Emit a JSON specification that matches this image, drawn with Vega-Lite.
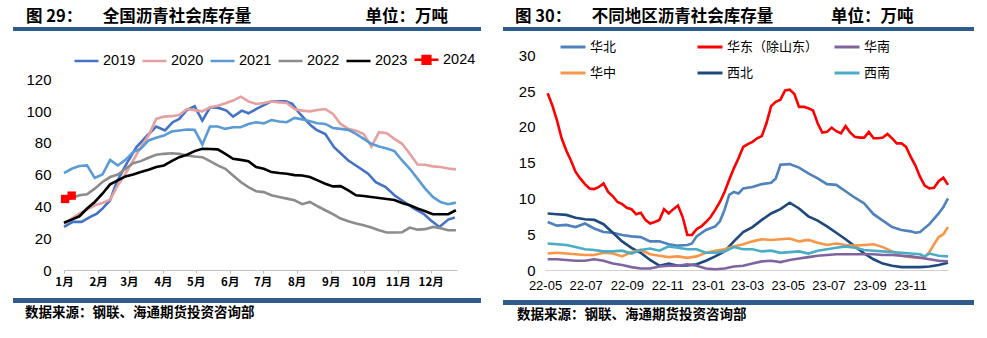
{
"$schema": "https://vega.github.io/schema/vega-lite/v6.json",
"background": "white",
"padding": {"left": 13, "top": 8, "right": 13, "bottom": 0},
"config": {"view": {"stroke": null}, "axis": {"grid": false}, "font": "Liberation Sans"},
"resolve": {"scale": {"color": "independent", "x": "independent", "y": "independent"}, "legend": {"color": "independent"}},
"datasets": {
"nat": [
{"d":"2019/01/01","s":"2019","v":27.1},{"d":"2019/01/09","s":"2019","v":30.3},{"d":"2019/01/17","s":"2019","v":30.3},{"d":"2019/01/25","s":"2019","v":33.4},{"d":"2019/01/31","s":"2019","v":35.5},{"d":"2019/02/05","s":"2019","v":38.6},{"d":"2019/02/12","s":"2019","v":43.9},{"d":"2019/02/18","s":"2019","v":55.3},{"d":"2019/02/27","s":"2019","v":66.9},{"d":"2019/03/08","s":"2019","v":77.3},{"d":"2019/03/17","s":"2019","v":84.0},{"d":"2019/03/26","s":"2019","v":90.3},{"d":"2019/04/03","s":"2019","v":87.8},{"d":"2019/04/10","s":"2019","v":93.0},{"d":"2019/04/16","s":"2019","v":95.1},{"d":"2019/04/23","s":"2019","v":100.7},{"d":"2019/04/30","s":"2019","v":103.0},{"d":"2019/05/07","s":"2019","v":94.0},{"d":"2019/05/14","s":"2019","v":102.4},{"d":"2019/05/22","s":"2019","v":102.0},{"d":"2019/05/29","s":"2019","v":100.3},{"d":"2019/06/04","s":"2019","v":96.5},{"d":"2019/06/12","s":"2019","v":100.3},{"d":"2019/06/18","s":"2019","v":98.6},{"d":"2019/06/27","s":"2019","v":102.0},{"d":"2019/07/09","s":"2019","v":106.1},{"d":"2019/07/22","s":"2019","v":106.1},{"d":"2019/07/28","s":"2019","v":104.5},{"d":"2019/08/04","s":"2019","v":98.2},{"d":"2019/08/14","s":"2019","v":90.9},{"d":"2019/08/19","s":"2019","v":88.2},{"d":"2019/08/27","s":"2019","v":85.6},{"d":"2019/09/04","s":"2019","v":77.3},{"d":"2019/09/17","s":"2019","v":68.9},{"d":"2019/09/26","s":"2019","v":64.8},{"d":"2019/10/05","s":"2019","v":60.6},{"d":"2019/10/12","s":"2019","v":55.3},{"d":"2019/10/21","s":"2019","v":52.2},{"d":"2019/10/29","s":"2019","v":47.0},{"d":"2019/11/07","s":"2019","v":42.8},{"d":"2019/11/16","s":"2019","v":38.6},{"d":"2019/11/25","s":"2019","v":35.1},{"d":"2019/12/01","s":"2019","v":31.3},{"d":"2019/12/09","s":"2019","v":27.1},{"d":"2019/12/17","s":"2019","v":31.7},{"d":"2019/12/23","s":"2019","v":33.0},
{"d":"2019/01/01","s":"2020","v":29.2},{"d":"2019/01/08","s":"2020","v":32.4},{"d":"2019/01/15","s":"2020","v":35.5},{"d":"2019/01/22","s":"2020","v":38.0},{"d":"2019/01/29","s":"2020","v":40.7},{"d":"2019/02/05","s":"2020","v":42.2},{"d":"2019/02/12","s":"2020","v":44.3},{"d":"2019/02/19","s":"2020","v":53.3},{"d":"2019/02/26","s":"2020","v":60.6},{"d":"2019/03/05","s":"2020","v":68.9},{"d":"2019/03/12","s":"2020","v":77.3},{"d":"2019/03/19","s":"2020","v":84.6},{"d":"2019/03/26","s":"2020","v":95.1},{"d":"2019/04/02","s":"2020","v":96.5},{"d":"2019/04/09","s":"2020","v":96.8},{"d":"2019/04/16","s":"2020","v":97.5},{"d":"2019/04/23","s":"2020","v":101.3},{"d":"2019/04/30","s":"2020","v":100.6},{"d":"2019/05/07","s":"2020","v":99.8},{"d":"2019/05/14","s":"2020","v":102.4},{"d":"2019/05/21","s":"2020","v":103.4},{"d":"2019/05/28","s":"2020","v":104.9},{"d":"2019/06/04","s":"2020","v":106.6},{"d":"2019/06/11","s":"2020","v":109.1},{"d":"2019/06/18","s":"2020","v":106.1},{"d":"2019/06/25","s":"2020","v":104.5},{"d":"2019/07/02","s":"2020","v":105.1},{"d":"2019/07/09","s":"2020","v":106.1},{"d":"2019/07/16","s":"2020","v":105.5},{"d":"2019/07/23","s":"2020","v":105.1},{"d":"2019/07/30","s":"2020","v":101.3},{"d":"2019/08/06","s":"2020","v":100.3},{"d":"2019/08/13","s":"2020","v":99.8},{"d":"2019/08/20","s":"2020","v":100.7},{"d":"2019/08/27","s":"2020","v":101.3},{"d":"2019/09/03","s":"2020","v":98.2},{"d":"2019/09/10","s":"2020","v":91.9},{"d":"2019/09/17","s":"2020","v":88.8},{"d":"2019/09/24","s":"2020","v":87.7},{"d":"2019/10/01","s":"2020","v":85.6},{"d":"2019/10/08","s":"2020","v":77.7},{"d":"2019/10/15","s":"2020","v":86.7},{"d":"2019/10/22","s":"2020","v":86.1},{"d":"2019/10/29","s":"2020","v":82.5},{"d":"2019/11/05","s":"2020","v":79.4},{"d":"2019/11/12","s":"2020","v":73.1},{"d":"2019/11/19","s":"2020","v":66.4},{"d":"2019/11/26","s":"2020","v":66.2},{"d":"2019/12/03","s":"2020","v":65.2},{"d":"2019/12/10","s":"2020","v":64.8},{"d":"2019/12/17","s":"2020","v":63.9},{"d":"2019/12/24","s":"2020","v":63.3},
{"d":"2019/01/01","s":"2021","v":61.0},{"d":"2019/01/08","s":"2021","v":63.7},{"d":"2019/01/15","s":"2021","v":65.4},{"d":"2019/01/22","s":"2021","v":65.8},{"d":"2019/01/29","s":"2021","v":58.0},{"d":"2019/02/05","s":"2021","v":60.1},{"d":"2019/02/12","s":"2021","v":69.3},{"d":"2019/02/19","s":"2021","v":65.8},{"d":"2019/02/26","s":"2021","v":69.3},{"d":"2019/03/05","s":"2021","v":74.2},{"d":"2019/03/12","s":"2021","v":76.3},{"d":"2019/03/19","s":"2021","v":81.5},{"d":"2019/03/26","s":"2021","v":83.2},{"d":"2019/04/02","s":"2021","v":84.6},{"d":"2019/04/09","s":"2021","v":87.1},{"d":"2019/04/16","s":"2021","v":87.8},{"d":"2019/04/23","s":"2021","v":88.4},{"d":"2019/04/30","s":"2021","v":88.2},{"d":"2019/05/07","s":"2021","v":79.0},{"d":"2019/05/14","s":"2021","v":90.3},{"d":"2019/05/21","s":"2021","v":90.3},{"d":"2019/05/28","s":"2021","v":88.8},{"d":"2019/06/04","s":"2021","v":89.8},{"d":"2019/06/11","s":"2021","v":89.8},{"d":"2019/06/18","s":"2021","v":91.9},{"d":"2019/06/25","s":"2021","v":93.0},{"d":"2019/07/02","s":"2021","v":92.3},{"d":"2019/07/09","s":"2021","v":94.4},{"d":"2019/07/16","s":"2021","v":93.4},{"d":"2019/07/23","s":"2021","v":93.0},{"d":"2019/07/30","s":"2021","v":95.7},{"d":"2019/08/06","s":"2021","v":94.8},{"d":"2019/08/13","s":"2021","v":93.6},{"d":"2019/08/20","s":"2021","v":92.3},{"d":"2019/08/27","s":"2021","v":91.9},{"d":"2019/09/03","s":"2021","v":89.4},{"d":"2019/09/10","s":"2021","v":88.8},{"d":"2019/09/17","s":"2021","v":88.2},{"d":"2019/09/24","s":"2021","v":85.6},{"d":"2019/10/01","s":"2021","v":82.5},{"d":"2019/10/08","s":"2021","v":79.4},{"d":"2019/10/15","s":"2021","v":77.7},{"d":"2019/10/22","s":"2021","v":76.5},{"d":"2019/10/29","s":"2021","v":74.8},{"d":"2019/11/05","s":"2021","v":68.9},{"d":"2019/11/12","s":"2021","v":63.7},{"d":"2019/11/19","s":"2021","v":57.5},{"d":"2019/11/26","s":"2021","v":51.2},{"d":"2019/12/03","s":"2021","v":46.0},{"d":"2019/12/10","s":"2021","v":42.8},{"d":"2019/12/17","s":"2021","v":41.4},{"d":"2019/12/24","s":"2021","v":42.4},
{"d":"2019/01/01","s":"2022","v":43.9},{"d":"2019/01/08","s":"2022","v":45.3},{"d":"2019/01/15","s":"2022","v":47.0},{"d":"2019/01/22","s":"2022","v":47.6},{"d":"2019/01/29","s":"2022","v":51.2},{"d":"2019/02/05","s":"2022","v":55.4},{"d":"2019/02/12","s":"2022","v":58.5},{"d":"2019/02/19","s":"2022","v":60.1},{"d":"2019/02/26","s":"2022","v":63.7},{"d":"2019/03/05","s":"2022","v":67.2},{"d":"2019/03/12","s":"2022","v":68.5},{"d":"2019/03/19","s":"2022","v":70.6},{"d":"2019/03/26","s":"2022","v":72.5},{"d":"2019/04/02","s":"2022","v":73.1},{"d":"2019/04/09","s":"2022","v":73.5},{"d":"2019/04/16","s":"2022","v":73.1},{"d":"2019/04/23","s":"2022","v":72.1},{"d":"2019/04/30","s":"2022","v":71.4},{"d":"2019/05/07","s":"2022","v":71.0},{"d":"2019/05/14","s":"2022","v":68.5},{"d":"2019/05/21","s":"2022","v":65.8},{"d":"2019/05/28","s":"2022","v":63.7},{"d":"2019/06/04","s":"2022","v":59.5},{"d":"2019/06/11","s":"2022","v":55.4},{"d":"2019/06/18","s":"2022","v":52.2},{"d":"2019/06/25","s":"2022","v":49.6},{"d":"2019/07/02","s":"2022","v":49.0},{"d":"2019/07/09","s":"2022","v":47.0},{"d":"2019/07/16","s":"2022","v":45.9},{"d":"2019/07/23","s":"2022","v":44.9},{"d":"2019/07/30","s":"2022","v":43.9},{"d":"2019/08/06","s":"2022","v":41.4},{"d":"2019/08/13","s":"2022","v":42.8},{"d":"2019/08/20","s":"2022","v":40.1},{"d":"2019/08/27","s":"2022","v":37.6},{"d":"2019/09/03","s":"2022","v":35.1},{"d":"2019/09/10","s":"2022","v":32.4},{"d":"2019/09/17","s":"2022","v":30.7},{"d":"2019/09/24","s":"2022","v":29.2},{"d":"2019/10/01","s":"2022","v":28.2},{"d":"2019/10/08","s":"2022","v":26.7},{"d":"2019/10/15","s":"2022","v":25.0},{"d":"2019/10/22","s":"2022","v":23.6},{"d":"2019/10/29","s":"2022","v":23.6},{"d":"2019/11/05","s":"2022","v":23.8},{"d":"2019/11/12","s":"2022","v":26.7},{"d":"2019/11/19","s":"2022","v":25.4},{"d":"2019/11/26","s":"2022","v":25.7},{"d":"2019/12/03","s":"2022","v":27.1},{"d":"2019/12/10","s":"2022","v":26.3},{"d":"2019/12/17","s":"2022","v":25.0},{"d":"2019/12/24","s":"2022","v":25.0},
{"d":"2019/01/01","s":"2023","v":29.7},{"d":"2019/01/08","s":"2023","v":31.7},{"d":"2019/01/15","s":"2023","v":33.8},{"d":"2019/01/22","s":"2023","v":38.7},{"d":"2019/01/29","s":"2023","v":42.8},{"d":"2019/02/05","s":"2023","v":48.0},{"d":"2019/02/12","s":"2023","v":53.9},{"d":"2019/02/19","s":"2023","v":56.4},{"d":"2019/02/26","s":"2023","v":58.9},{"d":"2019/03/05","s":"2023","v":60.1},{"d":"2019/03/12","s":"2023","v":61.6},{"d":"2019/03/19","s":"2023","v":63.1},{"d":"2019/03/26","s":"2023","v":64.8},{"d":"2019/04/02","s":"2023","v":65.8},{"d":"2019/04/09","s":"2023","v":68.5},{"d":"2019/04/16","s":"2023","v":71.0},{"d":"2019/04/23","s":"2023","v":72.5},{"d":"2019/04/30","s":"2023","v":74.8},{"d":"2019/05/07","s":"2023","v":76.3},{"d":"2019/05/14","s":"2023","v":76.1},{"d":"2019/05/21","s":"2023","v":75.9},{"d":"2019/05/28","s":"2023","v":73.1},{"d":"2019/06/04","s":"2023","v":70.0},{"d":"2019/06/11","s":"2023","v":69.3},{"d":"2019/06/18","s":"2023","v":68.5},{"d":"2019/06/25","s":"2023","v":64.8},{"d":"2019/07/02","s":"2023","v":63.7},{"d":"2019/07/09","s":"2023","v":61.6},{"d":"2019/07/16","s":"2023","v":61.0},{"d":"2019/07/23","s":"2023","v":60.6},{"d":"2019/07/30","s":"2023","v":59.7},{"d":"2019/08/06","s":"2023","v":59.5},{"d":"2019/08/13","s":"2023","v":58.5},{"d":"2019/08/20","s":"2023","v":56.4},{"d":"2019/08/27","s":"2023","v":54.3},{"d":"2019/09/03","s":"2023","v":52.6},{"d":"2019/09/10","s":"2023","v":52.8},{"d":"2019/09/17","s":"2023","v":50.1},{"d":"2019/09/24","s":"2023","v":47.0},{"d":"2019/10/01","s":"2023","v":46.6},{"d":"2019/10/08","s":"2023","v":45.9},{"d":"2019/10/15","s":"2023","v":45.3},{"d":"2019/10/22","s":"2023","v":44.7},{"d":"2019/10/29","s":"2023","v":44.1},{"d":"2019/11/05","s":"2023","v":42.2},{"d":"2019/11/12","s":"2023","v":40.7},{"d":"2019/11/19","s":"2023","v":38.7},{"d":"2019/11/26","s":"2023","v":37.0},{"d":"2019/12/03","s":"2023","v":35.1},{"d":"2019/12/10","s":"2023","v":35.1},{"d":"2019/12/17","s":"2023","v":35.1},{"d":"2019/12/24","s":"2023","v":37.6},
{"d":"2019/01/02","s":"2024","v":44.7},{"d":"2019/01/08","s":"2024","v":46.8}
],
"reg": [
{"d":"2022/05/05","s":"华东（除山东）","v":24.7},{"d":"2022/05/12","s":"华东（除山东）","v":23.0},{"d":"2022/05/19","s":"华东（除山东）","v":20.9},{"d":"2022/05/26","s":"华东（除山东）","v":18.4},{"d":"2022/06/02","s":"华东（除山东）","v":16.7},{"d":"2022/06/09","s":"华东（除山东）","v":15.3},{"d":"2022/06/16","s":"华东（除山东）","v":13.7},{"d":"2022/06/23","s":"华东（除山东）","v":12.8},{"d":"2022/06/30","s":"华东（除山东）","v":12.0},{"d":"2022/07/07","s":"华东（除山东）","v":11.4},{"d":"2022/07/14","s":"华东（除山东）","v":11.3},{"d":"2022/07/21","s":"华东（除山东）","v":11.6},{"d":"2022/07/28","s":"华东（除山东）","v":12.1},{"d":"2022/08/04","s":"华东（除山东）","v":10.9},{"d":"2022/08/11","s":"华东（除山东）","v":10.3},{"d":"2022/08/18","s":"华东（除山东）","v":9.5},{"d":"2022/08/25","s":"华东（除山东）","v":9.2},{"d":"2022/09/01","s":"华东（除山东）","v":8.7},{"d":"2022/09/08","s":"华东（除山东）","v":8.5},{"d":"2022/09/15","s":"华东（除山东）","v":7.8},{"d":"2022/09/22","s":"华东（除山东）","v":8.0},{"d":"2022/09/29","s":"华东（除山东）","v":7.0},{"d":"2022/10/06","s":"华东（除山东）","v":6.5},{"d":"2022/10/13","s":"华东（除山东）","v":6.7},{"d":"2022/10/20","s":"华东（除山东）","v":7.0},{"d":"2022/10/27","s":"华东（除山东）","v":8.5},{"d":"2022/11/03","s":"华东（除山东）","v":7.9},{"d":"2022/11/10","s":"华东（除山东）","v":8.5},{"d":"2022/11/17","s":"华东（除山东）","v":9.0},{"d":"2022/11/24","s":"华东（除山东）","v":7.4},{"d":"2022/12/01","s":"华东（除山东）","v":4.9},{"d":"2022/12/08","s":"华东（除山东）","v":4.9},{"d":"2022/12/15","s":"华东（除山东）","v":5.7},{"d":"2022/12/22","s":"华东（除山东）","v":6.1},{"d":"2022/12/29","s":"华东（除山东）","v":6.7},{"d":"2023/01/05","s":"华东（除山东）","v":7.4},{"d":"2023/01/12","s":"华东（除山东）","v":8.4},{"d":"2023/01/19","s":"华东（除山东）","v":9.5},{"d":"2023/01/26","s":"华东（除山东）","v":10.9},{"d":"2023/02/02","s":"华东（除山东）","v":12.6},{"d":"2023/02/09","s":"华东（除山东）","v":14.2},{"d":"2023/02/16","s":"华东（除山东）","v":15.6},{"d":"2023/02/23","s":"华东（除山东）","v":17.2},{"d":"2023/03/02","s":"华东（除山东）","v":17.6},{"d":"2023/03/09","s":"华东（除山东）","v":17.9},{"d":"2023/03/16","s":"华东（除山东）","v":18.4},{"d":"2023/03/23","s":"华东（除山东）","v":18.7},{"d":"2023/03/30","s":"华东（除山东）","v":20.5},{"d":"2023/04/06","s":"华东（除山东）","v":22.9},{"d":"2023/04/13","s":"华东（除山东）","v":23.5},{"d":"2023/04/20","s":"华东（除山东）","v":23.8},{"d":"2023/04/27","s":"华东（除山东）","v":25.1},{"d":"2023/05/04","s":"华东（除山东）","v":25.2},{"d":"2023/05/11","s":"华东（除山东）","v":24.6},{"d":"2023/05/18","s":"华东（除山东）","v":22.8},{"d":"2023/05/25","s":"华东（除山东）","v":22.8},{"d":"2023/06/01","s":"华东（除山东）","v":22.6},{"d":"2023/06/08","s":"华东（除山东）","v":22.3},{"d":"2023/06/15","s":"华东（除山东）","v":20.5},{"d":"2023/06/22","s":"华东（除山东）","v":19.2},{"d":"2023/06/29","s":"华东（除山东）","v":19.3},{"d":"2023/07/06","s":"华东（除山东）","v":19.9},{"d":"2023/07/13","s":"华东（除山东）","v":19.4},{"d":"2023/07/20","s":"华东（除山东）","v":19.1},{"d":"2023/07/27","s":"华东（除山东）","v":20.1},{"d":"2023/08/03","s":"华东（除山东）","v":19.2},{"d":"2023/08/10","s":"华东（除山东）","v":18.6},{"d":"2023/08/17","s":"华东（除山东）","v":18.5},{"d":"2023/08/24","s":"华东（除山东）","v":18.5},{"d":"2023/08/31","s":"华东（除山东）","v":19.3},{"d":"2023/09/07","s":"华东（除山东）","v":18.4},{"d":"2023/09/14","s":"华东（除山东）","v":18.4},{"d":"2023/09/21","s":"华东（除山东）","v":18.5},{"d":"2023/09/28","s":"华东（除山东）","v":19.0},{"d":"2023/10/05","s":"华东（除山东）","v":18.4},{"d":"2023/10/12","s":"华东（除山东）","v":17.7},{"d":"2023/10/19","s":"华东（除山东）","v":17.7},{"d":"2023/10/26","s":"华东（除山东）","v":17.2},{"d":"2023/11/02","s":"华东（除山东）","v":15.8},{"d":"2023/11/09","s":"华东（除山东）","v":14.6},{"d":"2023/11/16","s":"华东（除山东）","v":13.0},{"d":"2023/11/23","s":"华东（除山东）","v":11.8},{"d":"2023/11/30","s":"华东（除山东）","v":11.4},{"d":"2023/12/07","s":"华东（除山东）","v":11.5},{"d":"2023/12/14","s":"华东（除山东）","v":12.4},{"d":"2023/12/21","s":"华东（除山东）","v":12.9},{"d":"2023/12/28","s":"华东（除山东）","v":11.9},
{"d":"2022/05/05","s":"华北","v":6.7},{"d":"2022/05/19","s":"华北","v":6.2},{"d":"2022/06/02","s":"华北","v":6.3},{"d":"2022/06/16","s":"华北","v":6.0},{"d":"2022/06/30","s":"华北","v":6.5},{"d":"2022/07/14","s":"华北","v":5.8},{"d":"2022/07/28","s":"华北","v":5.3},{"d":"2022/08/11","s":"华北","v":5.2},{"d":"2022/08/25","s":"华北","v":4.9},{"d":"2022/09/08","s":"华北","v":4.7},{"d":"2022/09/22","s":"华北","v":4.6},{"d":"2022/10/06","s":"华北","v":4.0},{"d":"2022/10/20","s":"华北","v":4.0},{"d":"2022/11/03","s":"华北","v":3.6},{"d":"2022/11/17","s":"华北","v":3.4},{"d":"2022/12/01","s":"华北","v":3.5},{"d":"2022/12/08","s":"华北","v":3.7},{"d":"2022/12/15","s":"华北","v":4.7},{"d":"2022/12/29","s":"华北","v":5.6},{"d":"2023/01/12","s":"华北","v":6.1},{"d":"2023/01/19","s":"华北","v":6.8},{"d":"2023/01/26","s":"华北","v":8.4},{"d":"2023/02/02","s":"华北","v":10.5},{"d":"2023/02/09","s":"华北","v":10.9},{"d":"2023/02/16","s":"华北","v":10.7},{"d":"2023/02/23","s":"华北","v":11.4},{"d":"2023/03/09","s":"华北","v":11.6},{"d":"2023/03/23","s":"华北","v":12.0},{"d":"2023/04/06","s":"华北","v":12.2},{"d":"2023/04/13","s":"华北","v":12.8},{"d":"2023/04/20","s":"华北","v":14.7},{"d":"2023/05/04","s":"华北","v":14.8},{"d":"2023/05/18","s":"华北","v":14.3},{"d":"2023/06/01","s":"华北","v":13.5},{"d":"2023/06/15","s":"华北","v":12.8},{"d":"2023/06/29","s":"华北","v":12.0},{"d":"2023/07/13","s":"华北","v":11.9},{"d":"2023/07/27","s":"华北","v":11.0},{"d":"2023/08/10","s":"华北","v":10.1},{"d":"2023/08/24","s":"华北","v":9.3},{"d":"2023/09/07","s":"华北","v":7.8},{"d":"2023/09/21","s":"华北","v":6.9},{"d":"2023/10/05","s":"华北","v":6.0},{"d":"2023/10/19","s":"华北","v":5.6},{"d":"2023/11/02","s":"华北","v":5.4},{"d":"2023/11/09","s":"华北","v":5.2},{"d":"2023/11/16","s":"华北","v":5.3},{"d":"2023/11/30","s":"华北","v":6.4},{"d":"2023/12/14","s":"华北","v":7.9},{"d":"2023/12/21","s":"华北","v":8.8},{"d":"2023/12/28","s":"华北","v":10.0},
{"d":"2022/05/05","s":"西北","v":7.9},{"d":"2022/05/19","s":"西北","v":7.8},{"d":"2022/06/02","s":"西北","v":7.7},{"d":"2022/06/16","s":"西北","v":7.3},{"d":"2022/06/30","s":"西北","v":7.1},{"d":"2022/07/14","s":"西北","v":7.0},{"d":"2022/07/28","s":"西北","v":6.4},{"d":"2022/08/11","s":"西北","v":5.2},{"d":"2022/08/25","s":"西北","v":4.0},{"d":"2022/09/08","s":"西北","v":3.1},{"d":"2022/09/22","s":"西北","v":2.4},{"d":"2022/10/06","s":"西北","v":1.4},{"d":"2022/10/20","s":"西北","v":0.6},{"d":"2022/11/03","s":"西北","v":0.9},{"d":"2022/11/17","s":"西北","v":0.6},{"d":"2022/12/01","s":"西北","v":0.65},{"d":"2022/12/15","s":"西北","v":0.8},{"d":"2022/12/29","s":"西北","v":1.3},{"d":"2023/01/12","s":"西北","v":1.9},{"d":"2023/01/26","s":"西北","v":2.6},{"d":"2023/02/09","s":"西北","v":4.0},{"d":"2023/02/23","s":"西北","v":5.3},{"d":"2023/03/09","s":"西北","v":6.0},{"d":"2023/03/23","s":"西北","v":7.0},{"d":"2023/04/06","s":"西北","v":7.9},{"d":"2023/04/20","s":"西北","v":8.5},{"d":"2023/05/04","s":"西北","v":9.4},{"d":"2023/05/18","s":"西北","v":8.6},{"d":"2023/06/01","s":"西北","v":7.5},{"d":"2023/06/15","s":"西北","v":6.9},{"d":"2023/06/29","s":"西北","v":6.1},{"d":"2023/07/13","s":"西北","v":5.2},{"d":"2023/07/27","s":"西北","v":4.3},{"d":"2023/08/10","s":"西北","v":3.3},{"d":"2023/08/24","s":"西北","v":2.3},{"d":"2023/09/07","s":"西北","v":1.5},{"d":"2023/09/21","s":"西北","v":0.9},{"d":"2023/10/05","s":"西北","v":0.6},{"d":"2023/10/19","s":"西北","v":0.4},{"d":"2023/11/02","s":"西北","v":0.4},{"d":"2023/11/16","s":"西北","v":0.4},{"d":"2023/11/30","s":"西北","v":0.5},{"d":"2023/12/14","s":"西北","v":0.7},{"d":"2023/12/28","s":"西北","v":1.0},
{"d":"2022/05/05","s":"华中","v":2.3},{"d":"2022/05/19","s":"华中","v":2.4},{"d":"2022/06/02","s":"华中","v":2.3},{"d":"2022/06/16","s":"华中","v":2.2},{"d":"2022/06/30","s":"华中","v":2.1},{"d":"2022/07/14","s":"华中","v":2.1},{"d":"2022/07/28","s":"华中","v":2.4},{"d":"2022/08/11","s":"华中","v":2.3},{"d":"2022/08/25","s":"华中","v":1.9},{"d":"2022/09/08","s":"华中","v":2.5},{"d":"2022/09/22","s":"华中","v":2.8},{"d":"2022/10/06","s":"华中","v":2.2},{"d":"2022/10/20","s":"华中","v":2.0},{"d":"2022/11/03","s":"华中","v":1.8},{"d":"2022/11/17","s":"华中","v":1.9},{"d":"2022/12/01","s":"华中","v":1.7},{"d":"2022/12/15","s":"华中","v":1.9},{"d":"2022/12/29","s":"华中","v":2.4},{"d":"2023/01/12","s":"华中","v":2.7},{"d":"2023/01/26","s":"华中","v":2.9},{"d":"2023/02/09","s":"华中","v":3.3},{"d":"2023/02/23","s":"华中","v":3.6},{"d":"2023/03/09","s":"华中","v":4.0},{"d":"2023/03/23","s":"华中","v":4.3},{"d":"2023/04/06","s":"华中","v":4.2},{"d":"2023/04/20","s":"华中","v":4.3},{"d":"2023/05/04","s":"华中","v":4.4},{"d":"2023/05/18","s":"华中","v":4.0},{"d":"2023/06/01","s":"华中","v":4.2},{"d":"2023/06/15","s":"华中","v":3.8},{"d":"2023/06/29","s":"华中","v":3.5},{"d":"2023/07/13","s":"华中","v":3.7},{"d":"2023/07/27","s":"华中","v":3.5},{"d":"2023/08/10","s":"华中","v":3.4},{"d":"2023/08/24","s":"华中","v":3.5},{"d":"2023/09/07","s":"华中","v":3.6},{"d":"2023/09/21","s":"华中","v":3.2},{"d":"2023/10/05","s":"华中","v":2.6},{"d":"2023/10/19","s":"华中","v":2.0},{"d":"2023/11/02","s":"华中","v":1.8},{"d":"2023/11/16","s":"华中","v":1.7},{"d":"2023/11/23","s":"华中","v":1.8},{"d":"2023/11/30","s":"华中","v":2.5},{"d":"2023/12/07","s":"华中","v":3.6},{"d":"2023/12/14","s":"华中","v":4.6},{"d":"2023/12/21","s":"华中","v":5.0},{"d":"2023/12/28","s":"华中","v":6.0},
{"d":"2022/05/05","s":"西南","v":3.7},{"d":"2022/05/19","s":"西南","v":3.6},{"d":"2022/06/02","s":"西南","v":3.5},{"d":"2022/06/16","s":"西南","v":3.2},{"d":"2022/06/30","s":"西南","v":2.9},{"d":"2022/07/14","s":"西南","v":2.8},{"d":"2022/07/28","s":"西南","v":2.6},{"d":"2022/08/11","s":"西南","v":2.6},{"d":"2022/08/25","s":"西南","v":2.7},{"d":"2022/09/08","s":"西南","v":2.3},{"d":"2022/09/22","s":"西南","v":2.8},{"d":"2022/10/06","s":"西南","v":3.0},{"d":"2022/10/20","s":"西南","v":2.7},{"d":"2022/11/03","s":"西南","v":3.3},{"d":"2022/11/17","s":"西南","v":3.1},{"d":"2022/12/01","s":"西南","v":2.9},{"d":"2022/12/15","s":"西南","v":2.9},{"d":"2022/12/29","s":"西南","v":2.4},{"d":"2023/01/12","s":"西南","v":2.4},{"d":"2023/01/26","s":"西南","v":2.6},{"d":"2023/02/09","s":"西南","v":3.2},{"d":"2023/02/23","s":"西南","v":2.9},{"d":"2023/03/09","s":"西南","v":2.9},{"d":"2023/03/23","s":"西南","v":2.6},{"d":"2023/04/06","s":"西南","v":2.7},{"d":"2023/04/20","s":"西南","v":2.4},{"d":"2023/05/04","s":"西南","v":2.5},{"d":"2023/05/18","s":"西南","v":2.6},{"d":"2023/06/01","s":"西南","v":2.3},{"d":"2023/06/15","s":"西南","v":2.7},{"d":"2023/06/29","s":"西南","v":2.9},{"d":"2023/07/13","s":"西南","v":3.1},{"d":"2023/07/27","s":"西南","v":3.3},{"d":"2023/08/10","s":"西南","v":3.1},{"d":"2023/08/24","s":"西南","v":2.8},{"d":"2023/09/07","s":"西南","v":2.7},{"d":"2023/09/21","s":"西南","v":2.6},{"d":"2023/10/05","s":"西南","v":2.5},{"d":"2023/10/19","s":"西南","v":2.4},{"d":"2023/11/02","s":"西南","v":2.3},{"d":"2023/11/16","s":"西南","v":2.2},{"d":"2023/11/23","s":"西南","v":1.9},{"d":"2023/11/30","s":"西南","v":2.3},{"d":"2023/12/14","s":"西南","v":2.0},{"d":"2023/12/28","s":"西南","v":1.9},
{"d":"2022/05/05","s":"华南","v":1.5},{"d":"2022/05/19","s":"华南","v":1.5},{"d":"2022/06/02","s":"华南","v":1.4},{"d":"2022/06/16","s":"华南","v":1.3},{"d":"2022/06/30","s":"华南","v":1.3},{"d":"2022/07/14","s":"华南","v":1.5},{"d":"2022/07/28","s":"华南","v":1.3},{"d":"2022/08/11","s":"华南","v":0.9},{"d":"2022/08/25","s":"华南","v":0.7},{"d":"2022/09/08","s":"华南","v":0.4},{"d":"2022/09/22","s":"华南","v":0.2},{"d":"2022/10/06","s":"华南","v":0.2},{"d":"2022/10/20","s":"华南","v":0.5},{"d":"2022/11/03","s":"华南","v":0.6},{"d":"2022/11/17","s":"华南","v":0.6},{"d":"2022/12/01","s":"华南","v":0.8},{"d":"2022/12/15","s":"华南","v":0.6},{"d":"2022/12/29","s":"华南","v":0.2},{"d":"2023/01/12","s":"华南","v":0.1},{"d":"2023/01/26","s":"华南","v":0.2},{"d":"2023/02/09","s":"华南","v":0.5},{"d":"2023/02/23","s":"华南","v":0.6},{"d":"2023/03/09","s":"华南","v":0.9},{"d":"2023/03/23","s":"华南","v":1.2},{"d":"2023/04/06","s":"华南","v":1.3},{"d":"2023/04/20","s":"华南","v":1.1},{"d":"2023/05/04","s":"华南","v":1.4},{"d":"2023/05/18","s":"华南","v":1.6},{"d":"2023/06/01","s":"华南","v":1.8},{"d":"2023/06/15","s":"华南","v":2.0},{"d":"2023/06/29","s":"华南","v":2.1},{"d":"2023/07/13","s":"华南","v":2.2},{"d":"2023/07/27","s":"华南","v":2.2},{"d":"2023/08/10","s":"华南","v":2.2},{"d":"2023/08/24","s":"华南","v":2.2},{"d":"2023/09/07","s":"华南","v":2.2},{"d":"2023/09/21","s":"华南","v":2.1},{"d":"2023/10/05","s":"华南","v":2.1},{"d":"2023/10/19","s":"华南","v":2.0},{"d":"2023/11/02","s":"华南","v":1.9},{"d":"2023/11/16","s":"华南","v":1.7},{"d":"2023/11/30","s":"华南","v":1.5},{"d":"2023/12/14","s":"华南","v":1.3},{"d":"2023/12/28","s":"华南","v":1.2}
]
},
"spacing": 22,
"hconcat": [
{
"spacing": 6,
"vconcat": [
{
"width": 468, "height": 4,
"view": {"fill": "#2E5A8C", "stroke": null},
"title": {"text": "图 29：\u3000\u2002\u2005全国沥青社会库存量\u3000\u3000\u3000\u3000\u3000\u3000\u2002\u2005\u2006单位：万吨", "anchor": "start", "dx": 13, "offset": -2, "font": "Noto Sans CJK SC", "fontSize": 16.5, "fontWeight": "bold", "color": "#000"},
"data": {"values": [{}]},
"mark": {"type": "text"},
"encoding": {"text": {"value": ""}}
},
{
"width": 468, "height": 230,
"data": {"name": "nat"},
"encoding": {
"x": {"field": "d", "type": "temporal",
"scale": {"domain": [{"year": 2019, "month": 1, "date": 1}, {"year": 2019, "month": 12, "date": 25}], "range": [51, 444]},
"axis": {"title": null, "tickCount": {"interval": "month", "step": 1}, "format": "%-m月", "labelFont": "Noto Sans CJK SC", "labelFontSize": 11.5, "labelFontWeight": "bold", "labelColor": "#000", "labelFlush": false, "labelOverlap": false, "domainColor": "#BFBFBF", "tickColor": "#BFBFBF", "tickSize": 3, "labelPadding": 3}},
"y": {"field": "v", "type": "quantitative",
"scale": {"domain": [0, 120], "range": [230, 39.3]},
"axis": {"title": null, "offset": -51, "domain": false, "ticks": false, "values": [0, 20, 40, 60, 80, 100, 120], "labelFont": "Liberation Sans", "labelFontSize": 15, "labelColor": "#000", "labelPadding": 13}},
"color": {"field": "s", "type": "nominal",
"scale": {"domain": ["2019", "2020", "2021", "2022", "2023", "2024"], "range": ["#4472C4", "#E6A0A0", "#5B9BD5", "#8C8C8C", "#000000", "#FF0000"]},
"legend": {"orient": "none", "legendX": 60, "legendY": 19, "direction": "horizontal", "columns": 6, "title": null, "symbolType": "stroke", "symbolSize": 576, "symbolStrokeWidth": 2.5, "labelFont": "Liberation Sans", "labelFontSize": 14.5, "labelColor": "#000", "labelOffset": 3, "columnPadding": 1, "padding": 0,
"encode": {"symbols": {"update": {"shape": {"signal": "datum.value === '2024' ? 'M-1,0L1,0M-0.32,-0.32L0.32,-0.32L0.32,0.32L-0.32,0.32Z' : 'stroke'"}, "fill": {"signal": "datum.value === '2024' ? '#FF0000' : 'transparent'"}}}}}}
},
"layer": [
{"mark": {"type": "line", "strokeWidth": 2.6}},
{"transform": [{"filter": "datum.s === '2024'"}], "mark": {"type": "square", "size": 70, "opacity": 1, "filled": true}}
]
},
{
"width": 468, "height": 5,
"view": {"fill": "#2E5A8C", "stroke": null},
"title": {"text": "数据来源：钢联、海通期货投资咨询部", "orient": "bottom", "anchor": "start", "dx": 12, "offset": 0, "font": "Noto Sans CJK SC", "fontSize": 13.5, "fontWeight": "bold", "color": "#000"},
"data": {"values": [{}]},
"mark": {"type": "text"},
"encoding": {"text": {"value": ""}}
}
]
},
{
"spacing": 4,
"vconcat": [
{
"width": 471, "height": 4,
"view": {"fill": "#2E5A8C", "stroke": null},
"title": {"text": "图 30：\u3000\u2002\u2005不同地区沥青社会库存量\u3000\u3000\u3000\u2002单位：万吨", "anchor": "start", "dx": 12, "offset": -2, "font": "Noto Sans CJK SC", "fontSize": 16.5, "fontWeight": "bold", "color": "#000"},
"data": {"values": [{}]},
"mark": {"type": "text"},
"encoding": {"text": {"value": ""}}
},
{
"width": 471, "height": 232,
"data": {"name": "reg"},
"mark": {"type": "line", "strokeWidth": 2.6},
"encoding": {
"x": {"field": "d", "type": "temporal",
"scale": {"domain": [{"year": 2022, "month": 5, "date": 1}, {"year": 2023, "month": 12, "date": 28}], "range": [42, 445]},
"axis": {"title": null, "tickCount": {"interval": "month", "step": 2}, "format": "%y-%m", "labelFont": "Liberation Sans", "labelFontSize": 13, "labelColor": "#000", "labelFlush": false, "labelOverlap": false, "ticks": false, "domainColor": "#D0D0D0", "labelPadding": 9}},
"y": {"field": "v", "type": "quantitative",
"scale": {"domain": [0, 30], "range": [232, 17.3]},
"axis": {"title": null, "offset": -42, "domain": false, "ticks": false, "values": [0, 5, 10, 15, 20, 25, 30], "labelFont": "Liberation Sans", "labelFontSize": 15, "labelColor": "#000", "labelPadding": 10}},
"color": {"field": "s", "type": "nominal",
"scale": {"domain": ["华北", "华东（除山东）", "华南", "华中", "西北", "西南"], "range": ["#4F81BD", "#FF0000", "#8064A2", "#F79646", "#1F497D", "#4BACC6"]},
"legend": {"orient": "none", "legendX": 56, "legendY": 6, "direction": "horizontal", "columns": 3, "gridAlign": "all", "title": null, "symbolType": "stroke", "symbolSize": 625, "symbolStrokeWidth": 3, "labelFont": "Noto Sans CJK SC", "labelFontSize": 13, "labelColor": "#000", "labelOffset": 3, "columnPadding": 9, "rowPadding": 5, "padding": 0}}
}
},
{
"width": 471, "height": 5,
"view": {"fill": "#2E5A8C", "stroke": null},
"title": {"text": "数据来源：钢联、海通期货投资咨询部", "orient": "bottom", "anchor": "start", "dx": 14, "offset": 0, "font": "Noto Sans CJK SC", "fontSize": 13.5, "fontWeight": "bold", "color": "#000"},
"data": {"values": [{}]},
"mark": {"type": "text"},
"encoding": {"text": {"value": ""}}
}
]
}
]
}
